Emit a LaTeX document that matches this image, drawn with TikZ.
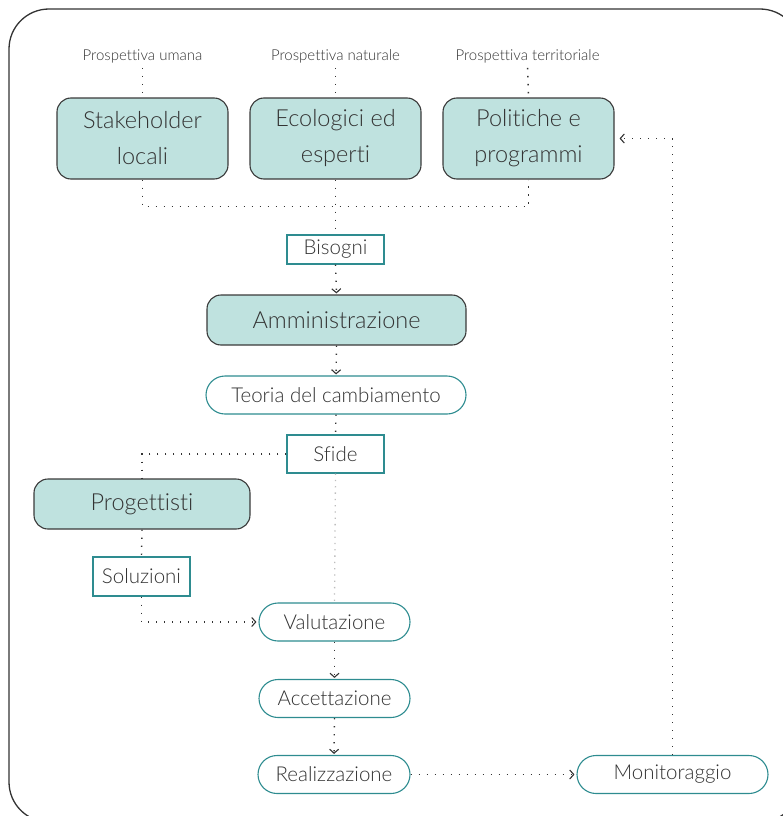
\documentclass[tikz,border=0pt]{standalone}
\usepackage{fontspec}
\setmainfont{Lato}[UprightFont=* Light, Ligatures=NoCommon]
\usetikzlibrary{arrows.meta}
\definecolor{boxfill}{HTML}{BFE2DF}
\definecolor{boxline}{HTML}{3A3A3A}
\definecolor{tealline}{HTML}{2E8C90}
\definecolor{inktext}{HTML}{333333}
\definecolor{dotgray}{HTML}{BDBDBD}
\tikzset{
  actor/.style={draw=boxline, line width=1.1pt, fill=boxfill, rounded corners=14pt,
    inner sep=0pt, align=center, text=inktext, font=\fontsize{23.5}{36}\selectfont},
  tag/.style={draw=tealline, line width=1.1pt, fill=white, inner sep=0pt,
    minimum width=97pt, text=inktext, font=\fontsize{20.5}{22}\selectfont},
  stage/.style={draw=tealline, line width=1.1pt, fill=white, rounded corners=19pt,
    inner sep=0pt, minimum height=38pt, text=inktext, font=\fontsize{20.5}{22}\selectfont},
  view/.style={text=inktext, inner sep=1pt, font=\fontsize{15}{17}\selectfont},
  dotline/.style={draw=inktext, line width=1.4pt, dash pattern=on 1.4pt off 6.6pt},
  dotarrow/.style={dotline, -{Straight Barb[length=4pt,width=9pt,line width=1.1pt]}},
  faintline/.style={draw=dotgray, line width=1.3pt, dash pattern=on 1.3pt off 5pt},
}
\begin{document}
\begin{tikzpicture}[x=1pt, y=-1pt]
\useasboundingbox (0,0) rectangle (782,816);
% outer frame
\draw[line width=1.3pt, draw=inktext, rounded corners=40pt] (9,9) rectangle (800,822);

% perspectives
\node[view] (vu) at (142.5,56) {Prospettiva umana};
\node[view] (vn) at (335.5,56) {Prospettiva naturale};
\node[view] (vt) at (527.5,56) {Prospettiva territoriale};

% actors
\node[actor, minimum width=171pt, minimum height=81pt] (stake) at (142.5,138.5) {Stakeholder\\locali};
\node[actor, minimum width=171pt, minimum height=81pt] (eco) at (335.5,138.5) {Ecologici ed\\esperti};
\node[actor, minimum width=171pt, minimum height=81pt] (pol) at (528.5,138.5) {Politiche e\\programmi};

\node[tag, minimum height=29pt] (bis) at (335.5,249.5) {Bisogni};
\node[actor, minimum width=259pt, minimum height=50pt] (amm) at (336.5,320) {Amministrazione};
\node[stage, minimum width=260pt] (teo) at (336,395) {Teoria del cambiamento};
\node[tag, minimum height=38pt] (sfi) at (335.5,454) {Sfide};
\node[actor, minimum width=216pt, minimum height=50pt] (prog) at (142,504) {Progettisti};
\node[tag, minimum height=39pt] (sol) at (141.5,576.5) {Soluzioni};
\node[stage, minimum width=151pt] (val) at (334.5,622) {Valutazione};
\node[stage, minimum width=151pt] (acc) at (334.5,698.5) {Accettazione};
\node[stage, minimum width=152pt] (rea) at (334,774.5) {Realizzazione};
\node[stage, minimum width=191pt] (mon) at (672.5,774.5) {Monitoraggio};

% connectors
\draw[dotline, shorten <=4pt] (vu.south) -- (stake.north);
\draw[dotline, shorten <=4pt] (vn.south) -- (eco.north);
\draw[dotline, shorten <=4pt] (vt.south) -- (pol.north);
\draw[dotline] (stake.south) -- ++(0,27) -| (pol.south);
\draw[dotline] (eco.south) -- (bis.north);
\draw[dotarrow, shorten >=1pt] (bis.south) -- (amm.north);
\draw[dotarrow, shorten >=1pt] (amm.south) -- (teo.north);
\draw[dotline] (teo.south) -- (sfi.north);
\draw[dotline] (sfi.west) -| (prog.north);
\draw[faintline] (sfi.south) -- (val.north);
\draw[dotline] (prog.south) -- (sol.north);
\draw[dotarrow, shorten >=2pt] (sol.south) |- (val.west);
\draw[dotarrow, shorten >=1pt] (val.south) -- (acc.north);
\draw[dotarrow, shorten >=1pt] (acc.south) -- (rea.north);
\draw[dotarrow, shorten >=2pt] (rea.east) -- (mon.west);
\draw[dotarrow, shorten >=5pt] (mon.north) |- (pol.east);
\end{tikzpicture}
\end{document}
